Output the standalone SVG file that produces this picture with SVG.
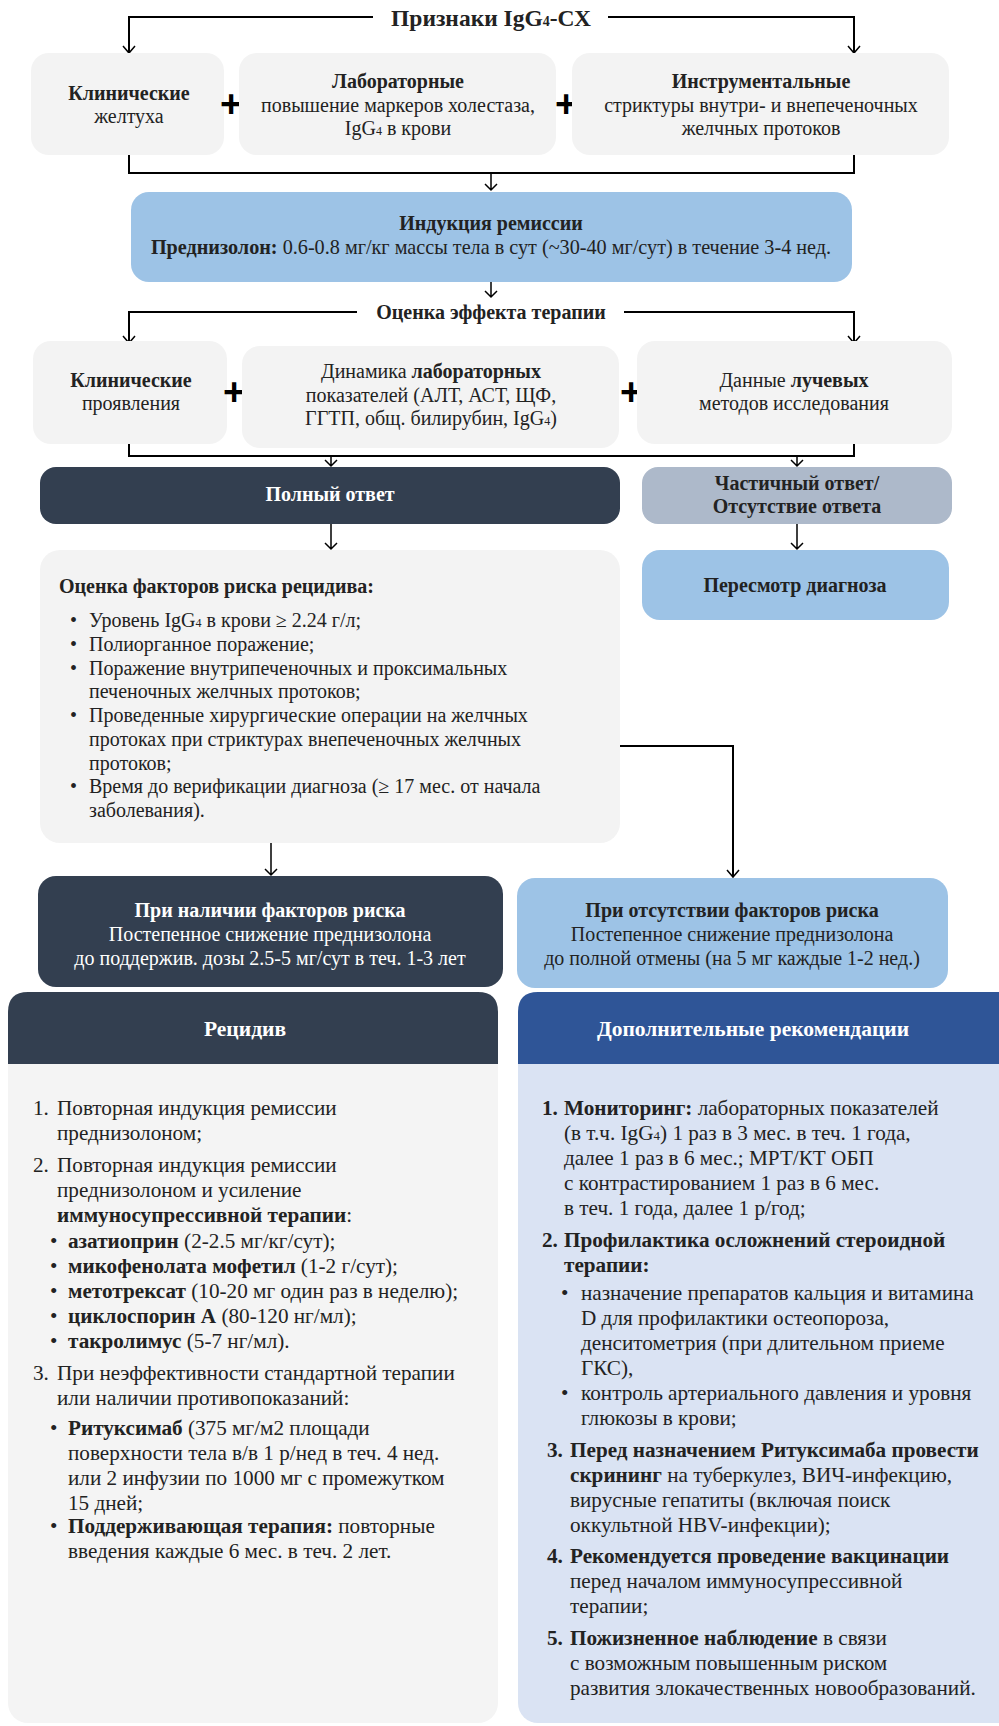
<svg xmlns="http://www.w3.org/2000/svg" width="999" height="1726" viewBox="0 0 999 1726">
<style>
text{font-family:"Liberation Serif","Times New Roman",serif;fill:#222;}
.t{font-size:20px;}
.c{text-anchor:middle;}
.b{font-weight:bold;}
.h{font-size:20px;font-weight:bold;}
.hd{font-size:21.5px;font-weight:bold;fill:#fff;text-anchor:middle;}
.w{fill:#fff;}
.p{font-size:21.2px;}
.plus{font-family:"Liberation Sans",Arial,sans-serif;font-size:38px;font-weight:bold;fill:#000;text-anchor:middle;}
.gray{fill:#F3F3F3;}
.blue{fill:#9DC3E6;}
.dark{fill:#333F50;}
.line{fill:none;stroke:#000;stroke-width:2;}
.arrow{fill:none;stroke:#000;stroke-width:1.5;}
</style>
<rect width="999" height="1726" fill="#fff"/>

<g id="connectors">
<path class="line" d="M373,17 H129 V52"/>
<path class="line" d="M608,17 H854 V52"/>
<path d="M123,46 L129,53 L135,46 M848,46 L854,53 L860,46" class="arrow"/>
<path class="line" d="M129,155 V173 H854 V155"/>
<path class="arrow" d="M491,173 V190 M485,184 L491,190 L497,184"/>
<path class="arrow" d="M491,282 V297 M485,291 L491,297 L497,291"/>
<path class="line" d="M357,312 H129 V342"/>
<path class="line" d="M624,312 H854 V342"/>
<path d="M123,336 L129,343 L135,336 M848,336 L854,343 L860,336" class="arrow"/>
<path class="line" d="M129,444 V456 H854 V444"/>
<path class="arrow" d="M331,456 V466 M325,460 L331,466 L337,460"/>
<path class="arrow" d="M797,456 V466 M791,460 L797,466 L803,460"/>
<path class="arrow" d="M331,524 V549 M325,543 L331,549 L337,543"/>
<path class="arrow" d="M797,524 V549 M791,543 L797,549 L803,543"/>
<path class="line" d="M620,746 H733 V876"/>
<path class="arrow" d="M727,870 L733,877 L739,870"/>
<path class="arrow" d="M271,843 V875 M265,869 L271,875 L277,869"/>
</g>

<g id="title">
<text x="491" y="26" class="c b" font-size="23.5">Признаки IgG<tspan font-size="14">4</tspan>-СХ</text>
</g>

<g id="n-clinical1">
<rect class="gray" x="31" y="53" width="193" height="102" rx="18"/>
<text x="129" y="100" class="t c b">Клинические</text>
<text x="129" y="123" class="t c">желтуха</text>
</g>
<g id="plus1"><text x="231" y="117" class="plus">+</text></g>
<g id="n-lab1">
<rect class="gray" x="239" y="53" width="317" height="102" rx="18"/>
<text x="398" y="88" class="t c b">Лабораторные</text>
<text x="398" y="112" class="t c">повышение маркеров холестаза,</text>
<text x="398" y="135" class="t c">IgG<tspan font-size="12">4</tspan> в крови</text>
</g>
<g id="plus2"><text x="566" y="117" class="plus">+</text></g>
<g id="n-instr1">
<rect class="gray" x="572" y="53" width="377" height="102" rx="18"/>
<text x="761" y="88" class="t c b">Инструментальные</text>
<text x="761" y="112" class="t c">стриктуры внутри- и внепеченочных</text>
<text x="761" y="135" class="t c">желчных протоков</text>
</g>

<g id="n-induction">
<rect class="blue" x="131" y="192" width="721" height="90" rx="18"/>
<text x="491" y="230" class="t c b">Индукция ремиссии</text>
<text x="491" y="254" class="c" font-size="20.2"><tspan class="b">Преднизолон:</tspan> 0.6-0.8 мг/кг массы тела в сут (~30-40 мг/сут) в течение 3-4 нед.</text>
</g>

<g id="n-eval">
<text x="491" y="319" class="h c">Оценка эффекта терапии</text>
</g>

<g id="n-clinical2">
<rect class="gray" x="33" y="341" width="194" height="103" rx="18"/>
<text x="131" y="387" class="t c b">Клинические</text>
<text x="131" y="410" class="t c">проявления</text>
</g>
<g id="plus3"><text x="234" y="405" class="plus">+</text></g>
<g id="n-lab2">
<rect class="gray" x="242" y="346" width="377" height="102" rx="18"/>
<text x="431" y="378" class="t c">Динамика <tspan class="b">лабораторных</tspan></text>
<text x="431" y="402" class="t c">показателей (АЛТ, АСТ, ЩФ,</text>
<text x="431" y="425" class="t c">ГГТП, общ. билирубин, IgG<tspan font-size="12">4</tspan>)</text>
</g>
<g id="plus4"><text x="631" y="405" class="plus">+</text></g>
<g id="n-rad">
<rect class="gray" x="637" y="341" width="315" height="103" rx="18"/>
<text x="794" y="387" class="t c">Данные <tspan class="b">лучевых</tspan></text>
<text x="794" y="410" class="t c">методов исследования</text>
</g>

<g id="n-full">
<rect class="dark" x="40" y="467" width="580" height="57" rx="16"/>
<text x="330" y="501" class="t c b w">Полный ответ</text>
</g>
<g id="n-partial">
<rect fill="#ADB9CA" x="642" y="467" width="310" height="57" rx="16"/>
<text x="797" y="490" class="t c b">Частичный ответ/</text>
<text x="797" y="513" class="t c b">Отсутствие ответа</text>
</g>

<g id="n-factors">
<rect class="gray" x="40" y="550" width="580" height="293" rx="20"/>
<text x="59" y="593" class="t b">Оценка факторов риска рецидива:</text>
<text x="70" y="627" class="t">•</text><text x="89" y="627" class="t">Уровень IgG<tspan font-size="12">4</tspan> в крови ≥ 2.24 г/л;</text>
<text x="70" y="651" class="t">•</text><text x="89" y="651" class="t">Полиорганное поражение;</text>
<text x="70" y="675" class="t">•</text><text x="89" y="675" class="t">Поражение внутрипеченочных и проксимальных</text>
<text x="89" y="698" class="t">печеночных желчных протоков;</text>
<text x="70" y="722" class="t">•</text><text x="89" y="722" class="t">Проведенные хирургические операции на желчных</text>
<text x="89" y="746" class="t">протоках при стриктурах внепеченочных желчных</text>
<text x="89" y="770" class="t">протоков;</text>
<text x="70" y="793" class="t">•</text><text x="89" y="793" class="t">Время до верификации диагноза (≥ 17 мес. от начала</text>
<text x="89" y="817" class="t">заболевания).</text>
</g>

<g id="n-review">
<rect class="blue" x="642" y="550" width="307" height="70" rx="18"/>
<text x="795" y="592" class="t c b">Пересмотр диагноза</text>
</g>

<g id="n-withrisk">
<rect class="dark" x="38" y="876" width="465" height="111" rx="18"/>
<text x="270" y="917" class="t c b w">При наличии факторов риска</text>
<text x="270" y="941" class="t c w">Постепенное снижение преднизолона</text>
<text x="270" y="965" class="t c w">до поддержив. дозы 2.5-5 мг/сут в теч. 1-3 лет</text>
</g>
<g id="n-norisk">
<rect class="blue" x="517" y="878" width="431" height="110" rx="18"/>
<text x="732" y="917" class="t c b">При отсутствии факторов риска</text>
<text x="732" y="941" class="t c">Постепенное снижение преднизолона</text>
<text x="732" y="965" class="t c">до полной отмены (на 5 мг каждые 1-2 нед.)</text>
</g>

<g id="n-relapse">
<rect fill="#F4F4F4" x="8" y="992" width="490" height="731" rx="20"/>
<path class="dark" d="M8,1064 V1012 Q8,992 28,992 H478 Q498,992 498,1012 V1064 Z"/>
<text x="245" y="1036" class="hd">Рецидив</text>
<text x="33" y="1115" class="p">1.</text><text x="57" y="1115" class="p">Повторная индукция ремиссии</text>
<text x="57" y="1140" class="p">преднизолоном;</text>
<text x="33" y="1172" class="p">2.</text><text x="57" y="1172" class="p">Повторная индукция ремиссии</text>
<text x="57" y="1197" class="p">преднизолоном и усиление</text>
<text x="57" y="1222" class="p"><tspan class="b">иммуносупрессивной терапии</tspan>:</text>
<text x="50" y="1248" class="p">•</text><text x="68" y="1248" class="p"><tspan class="b">азатиоприн</tspan> (2-2.5 мг/кг/сут);</text>
<text x="50" y="1273" class="p">•</text><text x="68" y="1273" class="p"><tspan class="b">микофенолата мофетил</tspan> (1-2 г/сут);</text>
<text x="50" y="1298" class="p">•</text><text x="68" y="1298" class="p"><tspan class="b">метотрексат</tspan> (10-20 мг один раз в неделю);</text>
<text x="50" y="1323" class="p">•</text><text x="68" y="1323" class="p"><tspan class="b">циклоспорин А</tspan> (80-120 нг/мл);</text>
<text x="50" y="1348" class="p">•</text><text x="68" y="1348" class="p"><tspan class="b">такролимус</tspan> (5-7 нг/мл).</text>
<text x="33" y="1380" class="p">3.</text><text x="57" y="1380" class="p">При неэффективности стандартной терапии</text>
<text x="57" y="1405" class="p">или наличии противопоказаний:</text>
<text x="50" y="1435" class="p">•</text><text x="68" y="1435" class="p"><tspan class="b">Ритуксимаб</tspan> (375 мг/м2 площади</text>
<text x="68" y="1460" class="p">поверхности тела в/в 1 р/нед в теч. 4 нед.</text>
<text x="68" y="1485" class="p">или 2 инфузии по 1000 мг с промежутком</text>
<text x="68" y="1510" class="p">15 дней;</text>
<text x="50" y="1533" class="p">•</text><text x="68" y="1533" class="p"><tspan class="b">Поддерживающая терапия:</tspan> повторные</text>
<text x="68" y="1558" class="p">введения каждые 6 мес. в теч. 2 лет.</text>
</g>

<g id="n-additional">
<rect fill="#DAE3F3" x="518" y="992" width="502" height="731" rx="20"/>
<path fill="#2F5597" d="M518,1064 V1012 Q518,992 538,992 H1020 V1064 Z"/>
<text x="753" y="1036" class="hd">Дополнительные рекомендации</text>
<text x="542" y="1115" class="p b">1.</text><text x="564" y="1115" class="p"><tspan class="b">Мониторинг:</tspan> лабораторных показателей</text>
<text x="564" y="1140" class="p">(в т.ч. IgG<tspan font-size="13">4</tspan>) 1 раз в 3 мес. в теч. 1 года,</text>
<text x="564" y="1165" class="p">далее 1 раз в 6 мес.; МРТ/КТ ОБП</text>
<text x="564" y="1190" class="p">с контрастированием 1 раз в 6 мес.</text>
<text x="564" y="1215" class="p">в теч. 1 года, далее 1 р/год;</text>
<text x="542" y="1247" class="p b">2.</text><text x="564" y="1247" class="p b">Профилактика осложнений стероидной</text>
<text x="564" y="1272" class="p b">терапии:</text>
<text x="561" y="1300" class="p">•</text><text x="581" y="1300" class="p">назначение препаратов кальция и витамина</text>
<text x="581" y="1325" class="p">D для профилактики остеопороза,</text>
<text x="581" y="1350" class="p">денситометрия (при длительном приеме</text>
<text x="581" y="1375" class="p">ГКС),</text>
<text x="561" y="1400" class="p">•</text><text x="581" y="1400" class="p">контроль артериального давления и уровня</text>
<text x="581" y="1425" class="p">глюкозы в крови;</text>
<text x="547" y="1457" class="p b">3.</text><text x="570" y="1457" class="p b">Перед назначением Ритуксимаба провести</text>
<text x="570" y="1482" class="p"><tspan class="b">скрининг</tspan> на туберкулез, ВИЧ-инфекцию,</text>
<text x="570" y="1507" class="p">вирусные гепатиты (включая поиск</text>
<text x="570" y="1532" class="p">оккультной HBV-инфекции);</text>
<text x="547" y="1563" class="p b">4.</text><text x="570" y="1563" class="p b">Рекомендуется проведение вакцинации</text>
<text x="570" y="1588" class="p">перед началом иммуносупрессивной</text>
<text x="570" y="1613" class="p">терапии;</text>
<text x="547" y="1645" class="p b">5.</text><text x="570" y="1645" class="p"><tspan class="b">Пожизненное наблюдение</tspan> в связи</text>
<text x="570" y="1670" class="p">с возможным повышенным риском</text>
<text x="570" y="1695" class="p">развития злокачественных новообразований.</text>
</g>
</svg>
